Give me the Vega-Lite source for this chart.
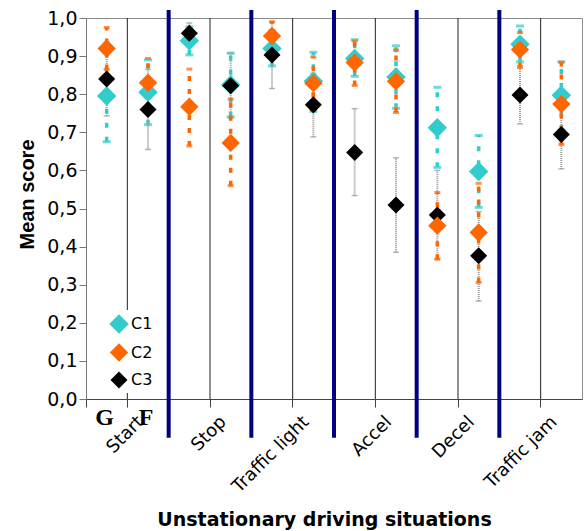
{
  "$schema": "https://vega.github.io/schema/vega-lite/v6.json",
  "width": 496,
  "height": 381,
  "autosize": {"type": "none"},
  "padding": {"left": 86, "top": 18, "right": 2, "bottom": 132},
  "background": "white",
  "config": {
    "view": {"stroke": "#8c8c8c", "strokeWidth": 1},
    "font": "DejaVu Sans",
    "axis": {"labelColor": "black", "titleColor": "black"},
    "axisY": {
      "values": [0, 0.1, 0.2, 0.3, 0.4, 0.5, 0.6, 0.7, 0.8, 0.9, 1.0],
      "labelExpr": "replace(format(datum.value, '.1f'), '.', ',')",
      "labelFont": "DejaVu Sans", "labelFontSize": 19, "labelPadding": 2,
      "tickSize": 7, "tickColor": "#777777", "domainColor": "#777777", "grid": false,
      "titleFont": "Liberation Sans", "titleFontSize": 20, "titleFontWeight": "bold",
      "titleBaseline": "alphabetic", "titleX": -53, "titleY": 176
    }
  },
  "data": {
    "values": [
      {"key": "Start|G", "sit": "Start", "cond": "G", "series": "C1", "mean": 0.795, "lo": 0.675, "hi": 0.915},
      {"key": "Start|F", "sit": "Start", "cond": "F", "series": "C1", "mean": 0.805, "lo": 0.72, "hi": 0.89},
      {"key": "Stop|G", "sit": "Stop", "cond": "G", "series": "C1", "mean": 0.94, "lo": 0.903, "hi": 0.977},
      {"key": "Stop|F", "sit": "Stop", "cond": "F", "series": "C1", "mean": 0.825, "lo": 0.741, "hi": 0.908},
      {"key": "Traffic light|G", "sit": "Traffic light", "cond": "G", "series": "C1", "mean": 0.92, "lo": 0.874, "hi": 0.966},
      {"key": "Traffic light|F", "sit": "Traffic light", "cond": "F", "series": "C1", "mean": 0.834, "lo": 0.755, "hi": 0.91},
      {"key": "Accel|G", "sit": "Accel", "cond": "G", "series": "C1", "mean": 0.894, "lo": 0.847, "hi": 0.943},
      {"key": "Accel|F", "sit": "Accel", "cond": "F", "series": "C1", "mean": 0.845, "lo": 0.763, "hi": 0.927},
      {"key": "Decel|G", "sit": "Decel", "cond": "G", "series": "C1", "mean": 0.712, "lo": 0.608, "hi": 0.818},
      {"key": "Decel|F", "sit": "Decel", "cond": "F", "series": "C1", "mean": 0.597, "lo": 0.503, "hi": 0.692},
      {"key": "Traffic jam|G", "sit": "Traffic jam", "cond": "G", "series": "C1", "mean": 0.931, "lo": 0.885, "hi": 0.979},
      {"key": "Traffic jam|F", "sit": "Traffic jam", "cond": "F", "series": "C1", "mean": 0.797, "lo": 0.706, "hi": 0.885},
      {"key": "Start|G", "sit": "Start", "cond": "G", "series": "C3", "mean": 0.84, "lo": 0.743, "hi": 0.937},
      {"key": "Start|F", "sit": "Start", "cond": "F", "series": "C3", "mean": 0.76, "lo": 0.655, "hi": 0.865},
      {"key": "Stop|G", "sit": "Stop", "cond": "G", "series": "C3", "mean": 0.96, "lo": 0.933, "hi": 0.987},
      {"key": "Stop|F", "sit": "Stop", "cond": "F", "series": "C3", "mean": 0.822, "lo": 0.737, "hi": 0.907},
      {"key": "Traffic light|G", "sit": "Traffic light", "cond": "G", "series": "C3", "mean": 0.903, "lo": 0.815, "hi": 0.99},
      {"key": "Traffic light|F", "sit": "Traffic light", "cond": "F", "series": "C3", "mean": 0.772, "lo": 0.688, "hi": 0.855},
      {"key": "Accel|G", "sit": "Accel", "cond": "G", "series": "C3", "mean": 0.647, "lo": 0.534, "hi": 0.762},
      {"key": "Accel|F", "sit": "Accel", "cond": "F", "series": "C3", "mean": 0.509, "lo": 0.385, "hi": 0.633},
      {"key": "Decel|G", "sit": "Decel", "cond": "G", "series": "C3", "mean": 0.483, "lo": 0.367, "hi": 0.6},
      {"key": "Decel|F", "sit": "Decel", "cond": "F", "series": "C3", "mean": 0.376, "lo": 0.257, "hi": 0.492},
      {"key": "Traffic jam|G", "sit": "Traffic jam", "cond": "G", "series": "C3", "mean": 0.798, "lo": 0.722, "hi": 0.875},
      {"key": "Traffic jam|F", "sit": "Traffic jam", "cond": "F", "series": "C3", "mean": 0.694, "lo": 0.604, "hi": 0.785},
      {"key": "Start|G", "sit": "Start", "cond": "G", "series": "C2", "mean": 0.92, "lo": 0.865, "hi": 0.975},
      {"key": "Start|F", "sit": "Start", "cond": "F", "series": "C2", "mean": 0.83, "lo": 0.766, "hi": 0.894},
      {"key": "Stop|G", "sit": "Stop", "cond": "G", "series": "C2", "mean": 0.767, "lo": 0.664, "hi": 0.866},
      {"key": "Stop|F", "sit": "Stop", "cond": "F", "series": "C2", "mean": 0.672, "lo": 0.56, "hi": 0.787},
      {"key": "Traffic light|G", "sit": "Traffic light", "cond": "G", "series": "C2", "mean": 0.953, "lo": 0.916, "hi": 0.99},
      {"key": "Traffic light|F", "sit": "Traffic light", "cond": "F", "series": "C2", "mean": 0.829, "lo": 0.758, "hi": 0.898},
      {"key": "Accel|G", "sit": "Accel", "cond": "G", "series": "C2", "mean": 0.883, "lo": 0.823, "hi": 0.94},
      {"key": "Accel|F", "sit": "Accel", "cond": "F", "series": "C2", "mean": 0.834, "lo": 0.752, "hi": 0.916},
      {"key": "Decel|G", "sit": "Decel", "cond": "G", "series": "C2", "mean": 0.455, "lo": 0.367, "hi": 0.542},
      {"key": "Decel|F", "sit": "Decel", "cond": "F", "series": "C2", "mean": 0.437, "lo": 0.306, "hi": 0.566},
      {"key": "Traffic jam|G", "sit": "Traffic jam", "cond": "G", "series": "C2", "mean": 0.917, "lo": 0.87, "hi": 0.962},
      {"key": "Traffic jam|F", "sit": "Traffic jam", "cond": "F", "series": "C2", "mean": 0.774, "lo": 0.668, "hi": 0.884}
    ]
  },
  "layer": [
    {
      "transform": [{"filter": "datum.series === 'C1' && datum.cond === 'F'"}],
      "mark": {"type": "rule", "color": "#222222", "strokeWidth": 1},
      "encoding": {
        "x": {
          "field": "key", "type": "nominal", "bandPosition": 0,
          "scale": {"domain": ["Start|G", "Start|F", "Stop|G", "Stop|F", "Traffic light|G", "Traffic light|F", "Accel|G", "Accel|F", "Decel|G", "Decel|F", "Traffic jam|G", "Traffic jam|F"], "paddingInner": 0, "paddingOuter": 0},
          "axis": {
            "orient": "bottom",
            "bandPosition": 0,
            "labelExpr": "slice(datum.value, -1) == 'F' ? slice(datum.value, 0, -2) : ''",
            "labelAngle": -45, "labelAlign": "right", "labelBaseline": "middle",
            "labelFont": "DejaVu Sans", "labelFontSize": 18,
            "labelPadding": 12, "labelOffset": -7,
            "labelOverlap": false, "labelBound": false, "labelFlush": false,
            "tickSize": 8, "tickColor": "#444444", "domainColor": "#444444",
            "title": "Unstationary driving situations",
            "titleFont": "DejaVu Sans", "titleFontWeight": "bold", "titleFontSize": 19,
            "titleBaseline": "top", "titleY": 111, "titleX": 238
          }
        },
        "y": {"datum": 0, "type": "quantitative", "title": "Mean score",
          "scale": {"domain": [0, 1], "nice": false, "zero": true}},
        "y2": {"datum": 1}
      }
    },
    {
      "transform": [{"filter": "datum.series === 'C1' && datum.cond === 'G' && datum.sit !== 'Start'"}],
      "mark": {"type": "rule", "color": "#000080", "strokeWidth": 4},
      "encoding": {
        "x": {
          "field": "key", "type": "nominal", "bandPosition": 0,
          "axis": {
            "orient": "bottom",
            "labelExpr": "slice(datum.value, 0, 6) == 'Start|' ? slice(datum.value, -1) : ''",
            "labelFont": "Liberation Serif", "labelFontWeight": "bold", "labelFontSize": 24,
            "labelAngle": 0, "labelBaseline": "middle", "labelAlign": "center",
            "labelPadding": 18, "labelOffset": -2,
            "labelOverlap": false, "labelBound": false, "labelFlush": false,
            "ticks": false, "tickSize": 0, "domain": false, "title": null
          }
        },
        "y": {"datum": -0.102, "type": "quantitative", "title": "Mean score"},
        "y2": {"datum": 1.021}
      }
    },
    {
      "transform": [{"filter": "datum.series === 'C1'"}],
      "mark": {
        "type": "errorbar",
        "color": "#33CCCC",
        "rule": {"strokeDash": [5, 9], "strokeWidth": 3.5, "color": "#33CCCC"},
        "ticks": {"size": 8, "thickness": 3, "color": "#33CCCC"}
      },
      "encoding": {
        "x": {"field": "key", "type": "nominal", "axis": null},
        "y": {"field": "lo", "type": "quantitative", "title": "Mean score"},
        "y2": {"field": "hi"}
      }
    },
    {
      "transform": [{"filter": "datum.series === 'C3'"}],
      "mark": {
        "type": "errorbar",
        "color": "#999999",
        "rule": {"strokeDash": [1, 1], "strokeWidth": 2, "color": "#999999"},
        "ticks": {"size": 6, "thickness": 1.5, "color": "#999999"}
      },
      "encoding": {
        "x": {"field": "key", "type": "nominal", "axis": null},
        "y": {"field": "lo", "type": "quantitative", "title": "Mean score"},
        "y2": {"field": "hi"}
      }
    },
    {
      "transform": [{"filter": "datum.series === 'C2'"}],
      "mark": {
        "type": "errorbar",
        "color": "#FF6600",
        "rule": {"strokeDash": [5, 8], "strokeWidth": 3.5, "color": "#FF6600"},
        "ticks": {"size": 6, "thickness": 3, "color": "#FF6600"}
      },
      "encoding": {
        "x": {"field": "key", "type": "nominal", "axis": null},
        "y": {"field": "lo", "type": "quantitative", "title": "Mean score"},
        "y2": {"field": "hi"}
      }
    },
    {
      "mark": {"type": "point", "shape": "diamond", "filled": true, "opacity": 1, "strokeWidth": 0},
      "encoding": {
        "x": {"field": "key", "type": "nominal", "axis": null},
        "y": {"field": "mean", "type": "quantitative", "title": "Mean score"},
        "color": {
          "field": "series", "type": "nominal",
          "scale": {"domain": ["C1", "C2", "C3"], "range": ["#33CCCC", "#FF6600", "#000000"]},
          "legend": {
            "title": null, "orient": "none", "legendX": 19, "legendY": 292,
            "fillColor": "white", "padding": 4,
            "symbolType": "diamond", "symbolSize": 196, "symbolStrokeWidth": 0, "symbolOpacity": 1,
            "labelFont": "DejaVu Sans", "labelFontSize": 16, "labelColor": "black", "labelOffset": 2,
            "rowPadding": 9
          }
        },
        "size": {
          "field": "series", "type": "nominal",
          "scale": {"domain": ["C1", "C2", "C3"], "range": [380, 290, 256]},
          "legend": null
        }
      }
    }
  ],
  "resolve": {"axis": {"x": "independent"}}
}
